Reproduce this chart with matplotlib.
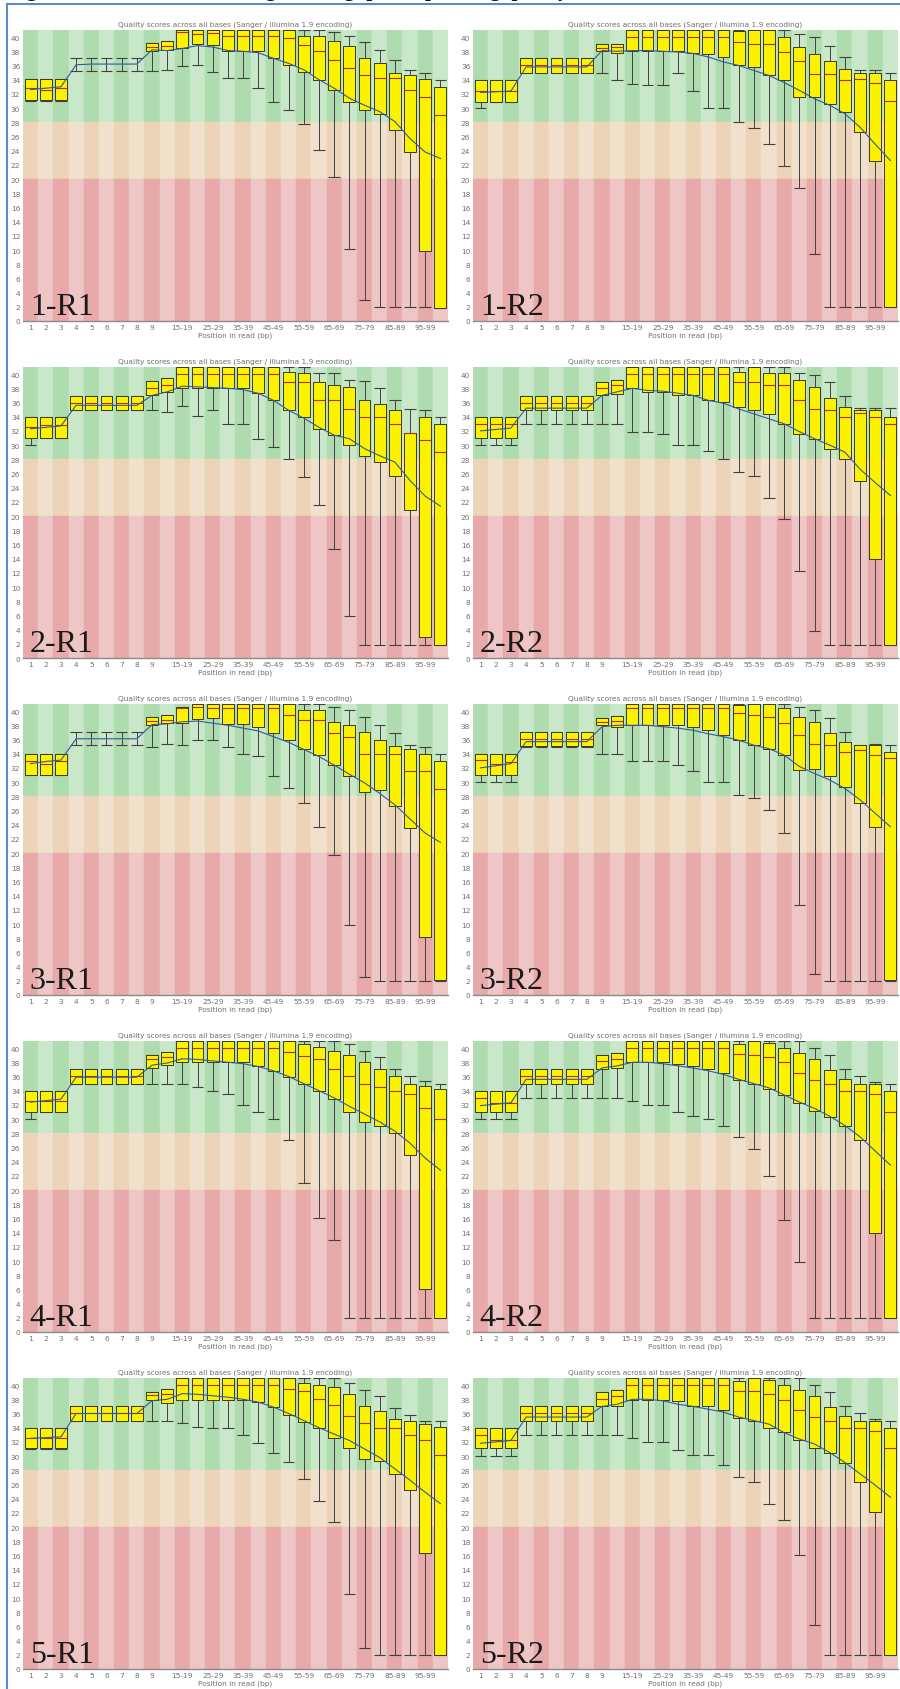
import numpy as np
import matplotlib
matplotlib.use("Agg")
import matplotlib.pyplot as plt
from matplotlib.lines import Line2D

plt.rcParams["font.family"] = ["DejaVu Sans"]

# ---- categories (position in read, bp) ----
positions = ["1", "2", "3", "4", "5", "6", "7", "8", "9", "10-14", "15-19", "20-24",
             "25-29", "30-34", "35-39", "40-44", "45-49", "50-54", "55-59", "60-64",
             "65-69", "70-74", "75-79", "80-84", "85-89", "90-94", "95-99", "100-101"]
shown_ticks = ["1", "2", "3", "4", "5", "6", "7", "8", "9", "", "15-19", "", "25-29", "",
               "35-39", "", "45-49", "", "55-59", "", "65-69", "", "75-79", "", "85-89",
               "", "95-99", ""]

# ---- per-panel box statistics: 10th pct, Q1, median, Q3, 90th pct, mean ----
p1r1_low = [31, 31, 31, 35.2, 35.2, 35.2, 35.2, 35.2, 35.2, 35.4, 35.9, 36, 35.1, 34.2, 34.2, 32.8, 30.9, 29.7, 27.7, 24.1, 20.3, 10.2, 3, 2, 2, 2, 2, 1.9]
p1r1_q1 = [31.1, 31.1, 31.1, 36.2, 36.2, 36.2, 36.2, 36.2, 38.1, 38.2, 38.5, 39, 38.9, 38.1, 38, 38, 37, 36.1, 35.1, 34, 32.5, 30.9, 29.7, 29.2, 26.9, 23.8, 9.8, 1.9]
p1r1_med = [32.8, 32.5, 32.8, 36.2, 36.2, 36.2, 36.2, 36.2, 38.6, 38.8, 40.7, 40.5, 40.6, 40.1, 40.1, 40.1, 40.1, 39.9, 38.9, 38.1, 36.8, 35.6, 34.7, 34.2, 34.2, 32.5, 31.5, 29]
p1r1_q3 = [34.1, 34.1, 34.1, 36.2, 36.2, 36.2, 36.2, 36.2, 39.2, 39.5, 41, 41, 41, 41, 41, 41, 41, 41, 40.1, 40.1, 39.5, 38.7, 37, 36.3, 35, 34.7, 34.1, 33]
p1r1_high = [34.1, 34.1, 34.1, 37.1, 37.1, 37.1, 37.1, 37.1, 39.2, 39.5, 41, 41, 41, 41, 41, 41, 41, 41, 41, 41, 40.7, 40.2, 39.3, 38.2, 36.8, 35.4, 35, 34]
p1r1_mean = [32.6, 32.8, 33, 36.1, 36.2, 36.2, 36.2, 36.2, 38.2, 38.1, 38.4, 38.8, 38.6, 38.1, 38, 37.8, 37, 36.3, 35.4, 34, 32.8, 31.4, 30.4, 29.5, 28.1, 25.7, 23.8, 22.9]

p1r2_low = [30, 30.9, 30.9, 35, 35, 35, 35, 35, 35, 34, 33.4, 33.2, 33.2, 35, 32.4, 30, 30, 28.1, 27.2, 24.9, 21.8, 18.8, 9.4, 2, 2, 2, 2, 2]
p1r2_q1 = [30.9, 30.9, 30.9, 35, 35, 35, 35, 35, 38.1, 37.8, 38.1, 38.1, 38.1, 38.1, 37.8, 37.6, 37.2, 36, 35.8, 34.6, 33.9, 31.5, 31.5, 30.6, 29.4, 26.6, 22.5, 2]
p1r2_med = [32.4, 32.4, 32.4, 36, 36, 36, 36, 36, 38.5, 38.6, 40, 40, 40, 40, 40, 40, 40, 39.3, 39, 39, 37.9, 36.7, 34.8, 34.8, 33.9, 34.1, 33.6, 31]
p1r2_q3 = [33.9, 33.9, 33.9, 37, 37, 37, 37, 37, 39, 39, 41, 41, 41, 41, 41, 41, 41, 40.9, 41, 41, 40, 38.6, 37.6, 36.7, 35.5, 35, 35, 34]
p1r2_high = [33.9, 33.9, 33.9, 37, 37, 37, 37, 37, 39, 39, 41, 41, 41, 41, 41, 41, 41, 41, 41, 41, 41, 40.5, 40, 38.8, 37.2, 35.3, 35.3, 35]
p1r2_mean = [32.2, 32.3, 32.4, 35.8, 35.8, 35.8, 35.8, 35.8, 38.1, 38, 38.1, 38.1, 38, 37.9, 37.7, 37.2, 36.5, 36, 35.3, 34.6, 33.6, 32.5, 31.3, 30.4, 29.2, 27.3, 24.9, 22.6]

p2r1_low = [30, 31, 31, 34.9, 34.9, 34.9, 34.9, 34.9, 35, 34.7, 35.5, 34.1, 35, 33, 33, 30.9, 29.7, 28, 25.5, 21.5, 15.4, 5.9, 1.9, 1.9, 1.9, 1.9, 1.9, 1.9]
p2r1_q1 = [31, 31, 31, 34.9, 34.9, 34.9, 34.9, 34.9, 37, 37.5, 38, 38, 38, 38, 38, 37.3, 36.3, 34.9, 34, 32.3, 31.4, 30, 28.5, 27.6, 25.7, 20.8, 3, 1.9]
p2r1_med = [32.5, 32.8, 32.8, 35.9, 35.9, 35.9, 35.9, 35.9, 38, 38.5, 40, 40, 40, 40, 40, 40, 40, 38.9, 38.9, 36.3, 36.3, 35.1, 34, 34, 33, 31.7, 30.7, 29]
p2r1_q3 = [34, 34, 34, 36.9, 36.9, 36.9, 36.9, 36.9, 39, 39.4, 41, 41, 41, 41, 41, 41, 41, 40.3, 40.1, 38.9, 38.4, 38.2, 36.3, 35.8, 34.9, 31.7, 34, 32.9]
p2r1_high = [34, 34, 34, 36.9, 36.9, 36.9, 36.9, 36.9, 39, 39.4, 41, 41, 41, 41, 41, 41, 41, 41, 41, 40.1, 40.1, 39.2, 39, 38, 36.3, 35.1, 34.9, 34]
p2r1_mean = [32.3, 32.5, 32.7, 35.6, 35.6, 35.6, 35.6, 35.6, 37, 37.5, 38.3, 38.2, 38.1, 38, 37.8, 37.3, 36.3, 34.9, 33.8, 32.5, 31.4, 30.9, 29.5, 28.5, 27.6, 25, 22.8, 21.4]

p2r2_low = [30, 30, 30, 33, 33, 33, 33, 33, 33, 33, 31.8, 31.8, 31.5, 30, 30, 29.2, 28, 26.2, 25.6, 22.5, 19.6, 12.3, 3.8, 1.9, 1.9, 1.9, 1.9, 1.9]
p2r2_q1 = [31, 31, 31, 34.9, 34.9, 34.9, 34.9, 34.9, 37, 37.2, 38, 37.5, 37.5, 37, 37, 36.3, 36, 35.4, 34.9, 34.4, 33, 31.6, 30.9, 29.5, 28.1, 25, 13.9, 1.9]
p2r2_med = [33, 33, 33, 35.9, 35.9, 35.9, 35.9, 35.9, 38, 38.5, 40, 40, 40, 40, 40, 40, 40, 38.9, 38.9, 38.4, 38.4, 36.3, 35.1, 34.9, 34, 34.5, 34, 33]
p2r2_q3 = [34, 34, 34, 36.9, 36.9, 36.9, 36.9, 36.9, 38.9, 39.2, 41, 41, 41, 41, 41, 41, 41, 40.3, 41, 40.1, 40.1, 39.2, 38.2, 36.6, 35.4, 34.9, 34.9, 34]
p2r2_high = [34, 34, 34, 36.9, 36.9, 36.9, 36.9, 36.9, 38.9, 39.2, 41, 41, 41, 41, 41, 41, 41, 41, 41, 41, 41, 40.1, 39.9, 38.9, 36.9, 35.2, 35.2, 35.2]
p2r2_mean = [32, 32.2, 32.4, 35.2, 35.2, 35.2, 35.2, 35.2, 37, 37.5, 38, 37.7, 37.6, 37.3, 37, 36.3, 35.9, 35.1, 34.4, 33.7, 33, 31.9, 30.9, 30, 29, 26.6, 24.7, 22.9]

p3r1_low = [31, 31, 31, 35.2, 35.2, 35.2, 35.2, 35.2, 35, 35.4, 35.2, 35.9, 35.9, 35, 34, 33.7, 30.8, 29.1, 27, 23.7, 19.7, 9.9, 2.6, 2, 2, 2, 2, 2]
p3r1_q1 = [31, 31, 31, 36.1, 36.1, 36.1, 36.1, 36.1, 38, 38.3, 38.3, 38.9, 39, 38.2, 38.2, 37.8, 36.9, 35.9, 34.7, 33.8, 32.4, 30.8, 28.6, 28.9, 26.6, 23.5, 8.2, 2.1]
p3r1_med = [32.9, 32.6, 32.9, 36.1, 36.1, 36.1, 36.1, 36.1, 38.6, 38.8, 40.4, 40.6, 40.4, 40.4, 40.4, 40.4, 40.4, 39.4, 38.7, 38.7, 36.9, 36.3, 34, 34, 34, 31.5, 31.5, 29]
p3r1_q3 = [34, 34, 34, 36.1, 36.1, 36.1, 36.1, 36.1, 39.2, 39.4, 40.6, 41, 41, 41, 41, 41, 41, 41, 40.1, 40.1, 38.5, 38, 37.1, 35.9, 35.1, 34.7, 34, 33]
p3r1_high = [34, 34, 34, 37.1, 37.1, 37.1, 37.1, 37.1, 39.2, 39.4, 40.6, 41, 41, 41, 41, 41, 41, 41, 41, 41, 40.6, 40.1, 39.2, 38, 36.9, 35.2, 35, 34]
p3r1_mean = [32.6, 32.9, 33.1, 36.1, 36.1, 36.1, 36.1, 36.1, 38.1, 38.2, 38.5, 38.6, 38.3, 38, 37.6, 37.2, 36.4, 35.6, 34.6, 33.6, 32.4, 31.1, 29.9, 28.4, 26.8, 24.8, 22.8, 21.5]

p3r2_low = [30, 30, 30, 35, 35, 35, 35, 35, 34, 34, 33, 33, 33, 32.4, 31.5, 30, 30, 28.2, 27.7, 26, 22.8, 12.7, 3, 2, 2, 2, 2, 2]
p3r2_q1 = [31, 31, 31, 35.1, 35.1, 35.1, 35.1, 35.1, 38, 37.8, 38, 38, 38, 38, 37.8, 37.4, 36.7, 35.9, 35.2, 34.7, 33.8, 31.7, 31.9, 30.8, 29.3, 27, 23.7, 2.1]
p3r2_med = [33.1, 32.6, 32.8, 36.1, 36.1, 36.1, 36.1, 36.1, 38.5, 38.6, 40.4, 40.4, 40.4, 40.4, 40.4, 40.4, 40.4, 39.7, 39.4, 39.2, 38.3, 36.6, 35.4, 35.2, 34.3, 34.5, 33.8, 33.4]
p3r2_q3 = [34, 34, 34, 37, 37, 37, 37, 37, 39, 39.3, 41, 41, 41, 41, 41, 41, 41, 40.8, 41, 41, 40.4, 39.2, 38.5, 36.9, 35.7, 35.2, 35.2, 34.3]
p3r2_high = [34, 34, 34, 37, 37, 37, 37, 37, 39, 39.3, 41, 41, 41, 41, 41, 41, 41, 41, 41, 41, 41, 40.6, 40.1, 39, 37.1, 35.2, 35.3, 35.2]
p3r2_mean = [32, 32.3, 32.6, 35.7, 35.7, 35.7, 35.7, 35.7, 37.8, 38, 38, 38, 37.8, 37.6, 37.3, 36.8, 36.4, 35.9, 35.2, 34.7, 33.8, 32.2, 31.2, 30.3, 29.1, 27.5, 25.6, 23.7]

p4r1_low = [30, 31, 31, 35, 35, 35, 35, 35, 35, 35, 35, 34.5, 34, 33.5, 32, 31, 30, 27, 21, 16, 13, 2, 2, 2, 2, 2, 2, 2]
p4r1_q1 = [31, 31, 31, 35, 35, 35, 35, 35, 37.2, 37.6, 38, 38, 38, 38, 38, 37.5, 36.8, 35.9, 35, 34, 32.8, 31, 29.6, 29, 28, 25, 6, 2]
p4r1_med = [32.5, 32.5, 32.5, 36, 36, 36, 36, 36, 38.5, 38.7, 40, 40, 40, 40, 40, 40, 40, 39.5, 38.9, 38.4, 37, 36, 35, 34.5, 34, 33.5, 31.6, 30]
p4r1_q3 = [34, 34, 34, 37, 37, 37, 37, 37, 39, 39.4, 41, 41, 41, 41, 41, 41, 41, 41, 40.6, 40.2, 39.6, 39, 38, 37, 36, 35, 34.6, 34.2]
p4r1_high = [34, 34, 34, 37, 37, 37, 37, 37, 39, 39.4, 41, 41, 41, 41, 41, 41, 41, 41, 41, 41, 41, 40.6, 39.6, 38.7, 37, 36, 35.4, 35]
p4r1_mean = [32.4, 32.6, 32.8, 35.9, 35.9, 35.9, 35.9, 35.9, 37.6, 37.9, 38.5, 38.4, 38.2, 38, 37.8, 37.4, 36.8, 36, 35, 34, 33, 31.8, 30.7, 29.6, 28.3, 26.6, 24.5, 22.8]

p4r2_low = [30, 30, 30, 33, 33, 33, 33, 33, 33, 33, 32.5, 32, 32, 31, 30.5, 30, 29, 27.5, 25.8, 22, 15.8, 9.9, 2, 2, 2, 2, 2, 2]
p4r2_q1 = [31, 31, 31, 35, 35, 35, 35, 35, 37, 37.2, 38, 38, 38, 37.8, 37.5, 37, 36.5, 35.5, 35, 34.2, 33.4, 32.2, 31.1, 30.3, 29, 27, 14, 2]
p4r2_med = [33, 32.3, 32.3, 36, 36, 36, 36, 36, 38.2, 38.5, 40, 40, 40, 40, 40, 40, 40, 39.2, 39, 38.8, 38, 36.5, 35.5, 35, 34, 34, 33.6, 31]
p4r2_q3 = [34, 34, 34, 37, 37, 37, 37, 37, 39, 39.3, 41, 41, 41, 41, 41, 41, 41, 40.6, 41, 40.7, 40, 39.3, 38.5, 36.9, 35.6, 35, 35, 34]
p4r2_high = [34, 34, 34, 37, 37, 37, 37, 37, 39, 39.3, 41, 41, 41, 41, 41, 41, 41, 41, 41, 41, 41, 41, 40, 39, 37, 36, 35.2, 35]
p4r2_mean = [31.9, 32.1, 32.3, 35.6, 35.6, 35.6, 35.6, 35.6, 37.2, 37.5, 38, 38, 37.8, 37.5, 37.2, 36.8, 36.3, 35.6, 35, 34.4, 33.4, 32.4, 31.5, 30.4, 29.1, 27.5, 25.5, 23.5]

p5r1_low = [31, 31, 31, 35, 35, 35, 35, 35, 35, 35, 34.6, 34.1, 34, 34, 33, 31.9, 30.4, 29.2, 26.7, 23.6, 20.7, 10.6, 3, 2, 2, 2, 2, 2]
p5r1_q1 = [31.1, 31.1, 31.1, 35, 35, 35, 35, 35, 37.9, 37.5, 37.9, 37.9, 37.9, 37.9, 37.9, 37.6, 36.9, 35.8, 34.8, 34, 32.6, 31.1, 29.6, 29.3, 27.5, 25.2, 16.4, 2]
p5r1_med = [32.5, 32.5, 32.5, 36, 36, 36, 36, 36, 38.6, 38.7, 40, 40, 40, 40, 40, 40, 40, 39.4, 39.1, 38, 37.2, 35.6, 34.6, 34, 34, 33, 32.3, 30.1]
p5r1_q3 = [34, 34, 34, 37, 37, 37, 37, 37, 39, 39.4, 41, 41, 41, 41, 41, 41, 41, 41, 40.3, 40, 39.8, 38.8, 37.1, 36.3, 35.2, 35, 34.5, 34.1]
p5r1_high = [34, 34, 34, 37, 37, 37, 37, 37, 39, 39.4, 41, 41, 41, 41, 41, 41, 41, 41, 41, 41, 41, 40.3, 39.3, 38.5, 36.8, 35.8, 35, 35]
p5r1_mean = [32.5, 32.6, 32.7, 36, 36, 36, 36, 36, 37.8, 38, 38.8, 38.7, 38.5, 38.3, 38, 37.6, 36.9, 36, 35, 34, 33.1, 32.2, 31, 29.8, 28.2, 26.6, 24.9, 23.3]

p5r2_low = [30, 30, 30, 33, 33, 33, 33, 33, 33, 33, 32.6, 32, 32, 30.8, 30.1, 30.1, 28.8, 27, 26.4, 23.3, 21, 16, 6.2, 2, 2, 2, 2, 2]
p5r2_q1 = [31.1, 31.1, 31.1, 35, 35, 35, 35, 35, 37, 37.1, 37.9, 37.9, 37.9, 37.7, 37.1, 37.1, 36.5, 35.3, 35, 34, 33.4, 32.2, 31.1, 30.5, 29, 26.4, 22.1, 2]
p5r2_med = [33, 32.2, 32.2, 36, 36, 36, 36, 36, 38, 38.5, 40, 40, 40, 40, 40, 40, 40, 39.1, 39.1, 38.8, 37.9, 36.5, 35.5, 35, 34, 34, 33.6, 31.1]
p5r2_q3 = [34, 34, 34, 37, 37, 37, 37, 37, 39, 39.3, 41, 41, 41, 41, 41, 41, 41, 40.6, 41, 40.7, 40, 39.3, 38.5, 36.9, 35.6, 35, 35, 34]
p5r2_high = [34, 34, 34, 37, 37, 37, 37, 37, 39, 39.3, 41, 41, 41, 41, 41, 41, 41, 41, 41, 41, 41, 41, 40, 39, 37.1, 36, 35.2, 35]
p5r2_mean = [31.8, 32, 32.2, 35.5, 35.5, 35.5, 35.5, 35.5, 37, 37.3, 38, 38, 37.8, 37.3, 37, 36.6, 36.2, 35.5, 35, 34.5, 33.3, 32.4, 31.7, 30.5, 29.1, 27.5, 25.9, 24.2]

panels = [
    ("1-R1", p1r1_low, p1r1_q1, p1r1_med, p1r1_q3, p1r1_high, p1r1_mean),
    ("1-R2", p1r2_low, p1r2_q1, p1r2_med, p1r2_q3, p1r2_high, p1r2_mean),
    ("2-R1", p2r1_low, p2r1_q1, p2r1_med, p2r1_q3, p2r1_high, p2r1_mean),
    ("2-R2", p2r2_low, p2r2_q1, p2r2_med, p2r2_q3, p2r2_high, p2r2_mean),
    ("3-R1", p3r1_low, p3r1_q1, p3r1_med, p3r1_q3, p3r1_high, p3r1_mean),
    ("3-R2", p3r2_low, p3r2_q1, p3r2_med, p3r2_q3, p3r2_high, p3r2_mean),
    ("4-R1", p4r1_low, p4r1_q1, p4r1_med, p4r1_q3, p4r1_high, p4r1_mean),
    ("4-R2", p4r2_low, p4r2_q1, p4r2_med, p4r2_q3, p4r2_high, p4r2_mean),
    ("5-R1", p5r1_low, p5r1_q1, p5r1_med, p5r1_q3, p5r1_high, p5r1_mean),
    ("5-R2", p5r2_low, p5r2_q1, p5r2_med, p5r2_q3, p5r2_high, p5r2_mean),
]

# quality bands: (bottom, top, darker stripe, lighter stripe)
bands = [(28, 41, "#afdcaf", "#c9e8c9"),
         (20, 28, "#ecd4b8", "#f1e0cb"),
         (0, 20, "#e7a9a9", "#eec6c6")]

yellow, edge, red, blue, whisk, grey = "#fbf200", "#3a3a1a", "#b0301e", "#35589e", "#404040", "#707070"

W, H = 900, 1690
fig = plt.figure(figsize=(W / 100, H / 100), dpi=100)


def draw(ax, name, low, q1, med, q3, high, mean):
    x = np.arange(1, len(positions) + 1)
    low, q1, med, q3, high, mean = map(np.asarray, (low, q1, med, q3, high, mean))
    for lo, hi, cdark, clight in bands:
        cols = [cdark if i % 2 == 0 else clight for i in range(len(x))]
        ax.bar(x, hi - lo, bottom=lo, width=1.0, color=cols, edgecolor=cols,
               linewidth=0.3, zorder=0)
    ax.vlines(x, low, q1, color=whisk, lw=0.7, zorder=2)
    ax.vlines(x, q3, high, color=whisk, lw=0.7, zorder=2)
    ax.hlines(low, x - 0.38, x + 0.38, color=whisk, lw=0.8, zorder=2)
    ax.hlines(high, x - 0.38, x + 0.38, color=whisk, lw=0.8, zorder=2)
    boxed = (q3 - q1) > 0
    ax.bar(x[boxed], (q3 - q1)[boxed], bottom=q1[boxed], width=0.78, color=yellow,
           edgecolor=edge, linewidth=0.7, zorder=3)
    ax.hlines(med[boxed], x[boxed] - 0.39, x[boxed] + 0.39, color=red, lw=0.8, zorder=4)
    ax.plot(x, mean, color=blue, lw=0.8, zorder=5)

    ax.set_xlim(0.5, len(x) + 0.5)
    ax.set_ylim(0, 41)
    ax.set_yticks(range(0, 41, 2))
    ax.set_xticks(x)
    ax.set_xticklabels(shown_ticks)
    ax.tick_params(length=0, labelsize=5.3, colors=grey, pad=2)
    for s in ["top", "right", "left"]:
        ax.spines[s].set_visible(False)
    ax.spines["bottom"].set_color("#8a8a8a")
    ax.spines["bottom"].set_linewidth(1.0)
    ax.set_title("Quality scores across all bases (Sanger / Illumina 1.9 encoding)",
                 fontsize=5.3, color=grey, pad=3)
    ax.set_xlabel("Position in read (bp)", fontsize=5.3, color=grey, labelpad=1.5)
    ax.text(0.016, 0.025, name, transform=ax.transAxes, fontsize=23,
            family="Liberation Serif", color="#1a1a1a", ha="left", va="baseline",
            zorder=10)


col_left = [23, 473]
plot_w, plot_h = 425, 291
for k, (name, *stats) in enumerate(panels):
    r, c = divmod(k, 2)
    top = 31 + 337 * r
    ax = fig.add_axes([col_left[c] / W, 1 - (top + plot_h) / H, plot_w / W, plot_h / H])
    draw(ax, name, *stats)

# frame lines of the composite and the caption clipped at the top edge
fig.add_artist(Line2D([7 / W, 1], [1 - 5 / H, 1 - 5 / H], color="#5b8bc9", lw=1.5))
fig.add_artist(Line2D([7 / W, 7 / W], [0, 1 - 5 / H], color="#5b8bc9", lw=1.5))
fig.text(8 / W, 1 + 4 / H, "Figure S1. FastQC results, high-throughput sequencing quality",
         fontsize=15, family="Liberation Serif", weight="bold", color="#111111",
         ha="left", va="baseline")

fig.savefig("out.png", dpi=100)
